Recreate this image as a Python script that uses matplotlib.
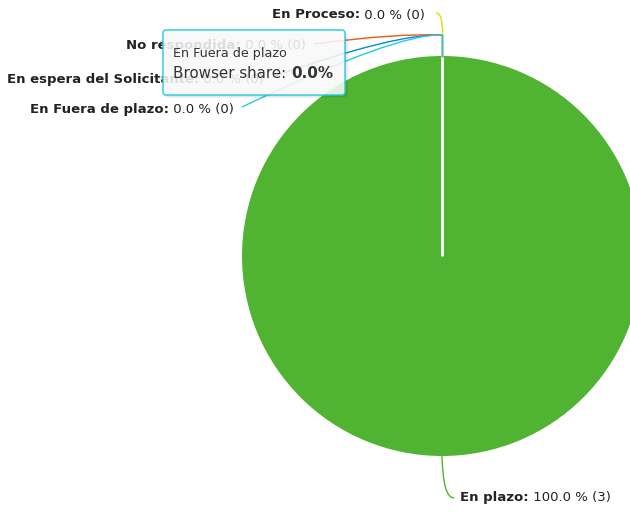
import matplotlib
matplotlib.use("Agg")
import matplotlib.pyplot as plt
from matplotlib.path import Path
from matplotlib.patches import PathPatch, FancyBboxPatch

# Datos del gráfico (estado de solicitudes)
labels = ["En espera del Solicitante", "En plazo", "No respondida", "En Proceso", "En Fuera de plazo"]
counts = [0, 3, 0, 0, 0]
colors = ["#058DC7", "#50B432", "#ED561B", "#DDDF00", "#24CBE5"]
tooltip_serie = "Browser share"
tooltip_label = "En Fuera de plazo"

total = sum(counts)
pcts = [100.0 * c / total for c in counts]

# Disposición en píxeles (eje y hacia abajo)
W, H = 630, 512
cx, cy, r = 442, 256, 200
junction = (cx, 35)
label_pos = {
    "En Proceso": (425, 15, "left"),
    "No respondida": (306, 46, "left"),
    "En espera del Solicitante": (264, 79, "left"),
    "En Fuera de plazo": (234, 109, "left"),
    "En plazo": (460, 498, "right"),
}
txt_color = "#222222"
fs = 9.5

fig = plt.figure(figsize=(W / 100, H / 100), dpi=100)
ax = fig.add_axes([0, 0, 1, 1])

ax.pie(counts, colors=colors, startangle=90, counterclock=False,
       center=(cx, cy), radius=r, wedgeprops=dict(linewidth=0))
ax.set_xlim(0, W)
ax.set_ylim(H, 0)
ax.set_aspect("auto")
ax.axis("off")

# borde blanco del sector (inicio en las 12)
ax.plot([cx, cx], [cy, cy - r], color="white", lw=2, solid_capstyle="butt", zorder=3)

renderer = fig.canvas.get_renderer()


def curve(p0, p1, p2, color):
    path = Path([p0, p1, p2], [Path.MOVETO, Path.CURVE3, Path.CURVE3])
    ax.add_patch(PathPatch(path, fill=False, edgecolor=color, lw=1, zorder=4))


def label(name, value_txt, x, y, side):
    if side == "left":
        t = ax.text(x, y, value_txt, ha="right", va="center", fontsize=fs, color=txt_color)
        x0 = t.get_window_extent(renderer).x0
        ax.text(x0, y, name + ":", ha="right", va="center", fontsize=fs,
                color=txt_color, weight="bold")
    else:
        t = ax.text(x, y, name + ":", ha="left", va="center", fontsize=fs,
                    color=txt_color, weight="bold")
        x1 = t.get_window_extent(renderer).x1
        ax.text(x1, y, value_txt, ha="left", va="center", fontsize=fs, color=txt_color)


# conectores y etiquetas
for name, c, p, col in zip(labels, counts, pcts, colors):
    x, y, side = label_pos[name]
    label(name, " %.1f %% (%d)" % (p, c), x, y, side)
    jx, jy = junction
    if name == "En plazo":
        curve((cx, cy + r), (cx + 1, y), (x - 6, y), col)
    elif name == "En Proceso":
        curve((x + 11, y - 2), (jx, y - 2), (jx, y + 12), col)
        ax.plot([jx, jx], [y + 12, cy - r], color=col, lw=1, zorder=4)
    else:
        curve((x + 8, y - 2), (jx - 45, jy - 2), (jx, jy), col)
        ax.plot([jx, jx], [jy, cy - r], color=col, lw=1, zorder=4)

# tooltip
tx0, ty0, tw, th = 163, 30, 182, 65
for k in range(1, 4):
    ax.add_patch(FancyBboxPatch((tx0 + k, ty0 + k), tw, th,
                                boxstyle="round,pad=0,rounding_size=3",
                                facecolor="black", edgecolor="none", alpha=0.05, zorder=5))
ax.add_patch(FancyBboxPatch((tx0, ty0), tw, th, boxstyle="round,pad=0,rounding_size=3",
                            facecolor="white", edgecolor=colors[4], lw=1.2,
                            alpha=0.85, zorder=6))
ax.text(tx0 + 10, 53, tooltip_label, ha="left", va="center", fontsize=9.2,
        color="#333333", zorder=7)
t = ax.text(tx0 + 10, 73, tooltip_serie + ": ", ha="left", va="center", fontsize=10.9,
            color="#333333", zorder=7)
x1 = t.get_window_extent(renderer).x1
ax.text(x1, 73, "%.1f%%" % pcts[4], ha="left", va="center", fontsize=10.9,
        color="#333333", weight="bold", zorder=7)

fig.savefig("out.png", dpi=100)
